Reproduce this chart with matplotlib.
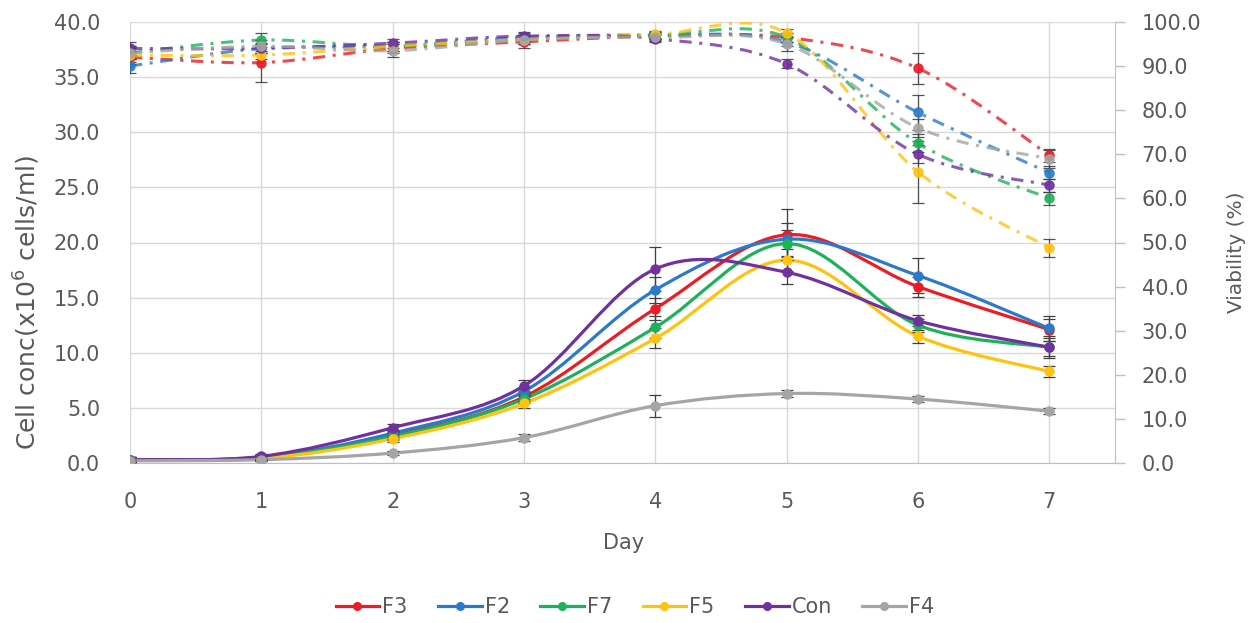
import numpy as np
import matplotlib.pyplot as plt
from matplotlib.path import Path
from matplotlib.patches import PathPatch
from matplotlib.lines import Line2D

plt.rcParams['font.family'] = ['DejaVu Sans']

days = [0, 1, 2, 3, 4, 5, 6, 7]
series = ["F3", "F2", "F7", "F5", "Con", "F4"]
colors = {
    "F3": "#EC1C24",
    "F2": "#2A7AC9",
    "F7": "#1DB25A",
    "F5": "#FFC20E",
    "Con": "#7030A0",
    "F4": "#A5A5A5",
}

# cell concentration (x10^6 cells/ml)
conc = {
    "F3": [0.3, 0.5, 2.5, 6.0, 14.0, 20.7, 16.0, 12.1],
    "F2": [0.3, 0.5, 2.7, 6.5, 15.7, 20.3, 17.0, 12.2],
    "F7": [0.3, 0.5, 2.4, 5.8, 12.3, 19.9, 12.5, 10.5],
    "F5": [0.3, 0.4, 2.2, 5.4, 11.3, 18.4, 11.5, 8.3],
    "Con": [0.3, 0.6, 3.2, 7.0, 17.6, 17.3, 12.9, 10.5],
    "F4": [0.2, 0.3, 0.9, 2.3, 5.2, 6.3, 5.8, 4.7],
}
conc_err = {
    "F3": [0.2, 0.2, 0.3, 0.4, 1.0, 2.3, 0.9, 1.0],
    "F2": [0.2, 0.2, 0.3, 0.4, 1.2, 1.5, 1.6, 1.1],
    "F7": [0.2, 0.2, 0.3, 0.4, 1.0, 1.2, 0.6, 0.8],
    "F5": [0.2, 0.2, 0.3, 0.4, 0.9, 1.0, 0.6, 0.5],
    "Con": [0.2, 0.2, 0.3, 0.5, 2.0, 1.1, 0.5, 1.0],
    "F4": [0.1, 0.1, 0.2, 0.3, 1.0, 0.3, 0.3, 0.3],
}

# viability (%)
viab = {
    "F3": [92.0, 90.8, 94.0, 95.5, 96.8, 96.5, 89.5, 69.8],
    "F2": [90.0, 94.0, 94.5, 96.5, 97.0, 95.5, 79.5, 65.8],
    "F7": [93.0, 95.9, 94.5, 96.0, 97.0, 96.5, 72.5, 60.0],
    "F5": [92.5, 92.5, 94.5, 96.0, 97.2, 97.5, 66.0, 48.8],
    "Con": [94.0, 94.0, 95.2, 96.8, 96.2, 90.5, 70.0, 63.0],
    "F4": [93.0, 94.5, 93.5, 96.0, 96.5, 95.0, 76.0, 69.0],
}
viab_err = {
    "F3": [1.5, 4.5, 1.0, 1.5, 0.8, 1.0, 3.5, 1.5],
    "F2": [1.5, 1.0, 1.0, 1.0, 0.8, 1.0, 4.0, 1.5],
    "F7": [1.5, 1.5, 1.0, 1.0, 0.8, 1.0, 2.0, 1.5],
    "F5": [1.5, 1.0, 1.0, 1.0, 0.8, 1.0, 7.0, 2.0],
    "Con": [1.5, 1.0, 1.0, 1.0, 0.8, 1.0, 2.0, 1.5],
    "F4": [1.5, 1.5, 1.5, 1.0, 0.8, 1.5, 2.0, 2.0],
}


def smooth_path(x, y, tension=1 / 6):
    # Catmull-Rom style bezier segments through the data points
    x = np.asarray(x, float)
    y = np.asarray(y, float)
    verts = [(x[0], y[0])]
    codes = [Path.MOVETO]
    n = len(x)
    for i in range(n - 1):
        p0 = i - 1 if i > 0 else i
        p3 = i + 2 if i + 2 < n else i + 1
        c1 = (x[i] + (x[i + 1] - x[p0]) * tension, y[i] + (y[i + 1] - y[p0]) * tension)
        c2 = (x[i + 1] - (x[p3] - x[i]) * tension, y[i + 1] - (y[p3] - y[i]) * tension)
        verts += [c1, c2, (x[i + 1], y[i + 1])]
        codes += [Path.CURVE4] * 3
    return Path(verts, codes)


W, H = 1257, 623
fig = plt.figure(figsize=(W / 100, H / 100), dpi=100)
ax = fig.add_axes([130 / W, 1 - 463 / H, 985 / W, 441 / H])
ax2 = ax.twinx()

grid_c = "#D9D9D9"
text_c = "#595959"

# --- cell concentration, left axis ---
for name in series:
    c = colors[name]
    ax.add_patch(PathPatch(smooth_path(days, conc[name]), facecolor="none",
                           edgecolor=c, lw=2.3, zorder=3))
    ax.errorbar(days, conc[name], yerr=conc_err[name], fmt="o", color=c,
                ms=6.5, ecolor="#404040", elinewidth=0.9, capsize=4,
                capthick=0.9, zorder=4)

# --- viability, right axis ---
for name in series:
    c = colors[name]
    ax2.add_patch(PathPatch(smooth_path(days, viab[name]), facecolor="none",
                            edgecolor=c, lw=2.2, alpha=0.8,
                            linestyle=(0, (4, 2.5, 1, 2.5)), zorder=3))
    ax2.errorbar(days, viab[name], yerr=viab_err[name], fmt="o", color=c,
                 ms=6.5, alpha=0.9, ecolor="#404040", elinewidth=0.9,
                 capsize=4, capthick=0.9, zorder=4)

ax.set_xlim(0, 7.5)
ax.set_ylim(0, 40)
ax2.set_ylim(0, 100)

ax.set_xticks(days)
ax.set_yticks(np.arange(0, 41, 5))
ax.set_yticklabels([f"{v:.1f}" for v in np.arange(0, 41, 5)])
ax2.set_yticks(np.arange(0, 101, 10))
ax2.set_yticklabels([f"{v:.1f}" for v in np.arange(0, 101, 10)])

ax.grid(True, color=grid_c, lw=1)
ax.set_axisbelow(True)

for a in (ax, ax2):
    a.spines["top"].set_visible(False)
    a.spines["left"].set_visible(False)
ax.spines["right"].set_visible(False)
ax.spines["bottom"].set_color("#BFBFBF")
ax2.spines["bottom"].set_visible(False)
ax2.spines["right"].set_color("#BFBFBF")

ax.tick_params(axis="y", length=0, pad=21.5, labelsize=15, labelcolor=text_c)
ax.tick_params(axis="x", length=0, pad=21, labelsize=15, labelcolor=text_c)
ax2.tick_params(axis="y", length=7.2, width=1, color="#BFBFBF", direction="out",
                pad=12, labelsize=15, labelcolor=text_c)

# axis titles
fig.text(624 / W, 1 - 543 / H, "Day", fontsize=15, color=text_c,
         ha="center", va="center")
fig.text(27 / W, 1 - 302 / H, "Cell conc(x10$^6$ cells/ml)", fontsize=18,
         color=text_c, rotation=90, ha="center", va="center")
fig.text(1236 / W, 1 - 252 / H, "Viability (%)", fontsize=14.5, color=text_c,
         rotation=90, ha="center", va="center")

handles = [Line2D([], [], color=colors[n], lw=2.3, marker="o", ms=5.5) for n in series]
fig.legend(handles, series, loc="center", bbox_to_anchor=(635 / W, 1 - 607 / H), ncol=6,
           frameon=False, fontsize=15, handlelength=2.1, columnspacing=1.45,
           handletextpad=0.15, labelcolor=text_c, borderpad=0)

fig.savefig("out.png", dpi=100)
